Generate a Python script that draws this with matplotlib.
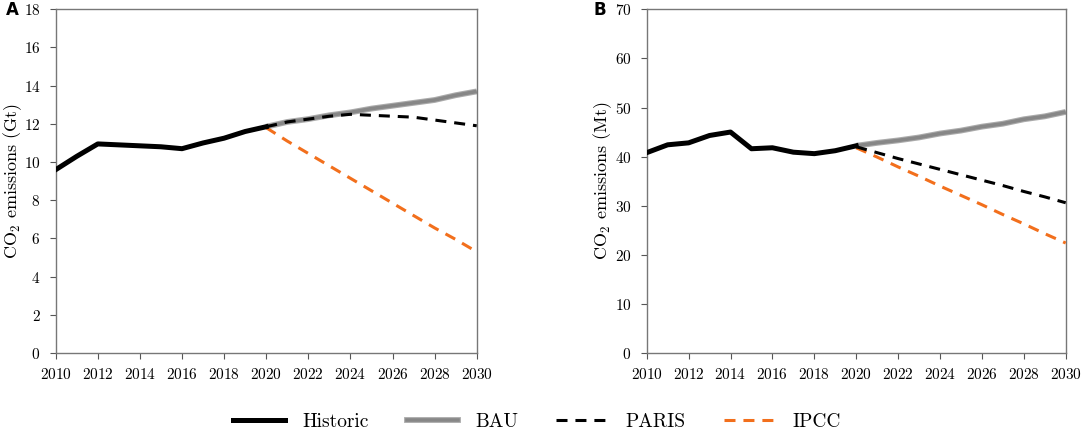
import matplotlib
matplotlib.use("Agg")
import matplotlib.pyplot as plt
import matplotlib.patheffects as pe
from matplotlib.lines import Line2D

plt.rcParams['font.family'] = ['cmr10']
plt.rcParams['mathtext.fontset'] = 'cm'
plt.rcParams['axes.formatter.use_mathtext'] = True

years_hist = [2010, 2011, 2012, 2013, 2014, 2015, 2016, 2017, 2018, 2019, 2020]
years_proj = [2020, 2021, 2022, 2023, 2024, 2025, 2026, 2027, 2028, 2029, 2030]

a_hist = [9.6, 10.3, 10.95, 10.9, 10.85, 10.8, 10.7, 11.0, 11.25, 11.6, 11.85]
a_bau = [11.85, 12.1, 12.25, 12.45, 12.6, 12.8, 12.95, 13.1, 13.25, 13.5, 13.7]
a_paris = [11.85, 12.1, 12.25, 12.4, 12.5, 12.45, 12.4, 12.35, 12.2, 12.05, 11.9]
a_ipcc = [11.8, 11.1, 10.45, 9.8, 9.15, 8.5, 7.85, 7.2, 6.55, 5.95, 5.3]

b_hist = [40.8, 42.4, 42.8, 44.3, 45.0, 41.6, 41.8, 40.9, 40.6, 41.2, 42.2]
b_bau = [42.2, 42.8, 43.3, 43.9, 44.7, 45.3, 46.1, 46.7, 47.6, 48.2, 49.1]
b_paris = [42.0, 40.8, 39.6, 38.5, 37.4, 36.3, 35.2, 34.1, 32.9, 31.8, 30.6]
b_ipcc = [41.8, 39.9, 37.9, 36.0, 34.0, 32.1, 30.2, 28.2, 26.3, 24.3, 22.4]

series_names = ['Historic', 'BAU', 'PARIS', 'IPCC']
xticks = list(range(2010, 2031, 2))

fig = plt.figure(figsize=(10.84, 4.32), dpi=100)
W, H = 1084, 432
axA = fig.add_axes([55.7 / W, 1 - 353 / H, (476.7 - 55.7) / W, (353 - 9.3) / H])
axB = fig.add_axes([646.7 / W, 1 - 353 / H, (1065.7 - 646.7) / W, (353 - 9.3) / H])

orange = '#f26f1c'
gray = '#878787'
bau_fx = [pe.Stroke(linewidth=4.2, foreground='#ababab'), pe.Normal()]
dash = (0, (3.6, 2.6))

def draw(ax, hist, bau, paris, ipcc, ymax, ystep, unit, letter, lx):
    ax.plot(years_proj, ipcc, color=orange, lw=2.2, ls=dash, zorder=3)
    ax.plot(years_proj, bau, color=gray, lw=2.6, solid_capstyle='butt', zorder=2,
            path_effects=bau_fx)
    ax.plot(years_proj, paris, color='black', lw=2.2, ls=dash, zorder=4)
    ax.plot(years_hist, hist, color='black', lw=3.6, zorder=5)
    ax.set_xlim(2010, 2030)
    ax.set_ylim(0, ymax)
    ax.set_xticks(xticks)
    ax.set_yticks(range(0, ymax + 1, ystep))
    ax.tick_params(labelsize=11, length=4, color='#555555', direction='out', top=False, right=False)
    ax.tick_params(axis='x', pad=6)
    ax.tick_params(axis='y', pad=7)
    for s in ax.spines.values():
        s.set_color('#777777')
        s.set_linewidth(1.0)
    ax.set_ylabel(r'CO$_2$ emissions (' + unit + ')', fontsize=13)
    ax.text(lx, 0.997, letter, transform=ax.transAxes, fontsize=12, fontweight='bold',
            family='DejaVu Sans', ha='left', va='center')

draw(axA, a_hist, a_bau, a_paris, a_ipcc, 18, 2, 'Gt', 'A', -0.118)
draw(axB, b_hist, b_bau, b_paris, b_ipcc, 70, 10, 'Mt', 'B', -0.128)
axA.yaxis.set_label_coords(-0.076, 0.5)
axB.yaxis.set_label_coords(-0.079, 0.5)

handles = [
    Line2D([], [], color='black', lw=3.6),
    Line2D([], [], color=gray, lw=2.6, path_effects=bau_fx),
    Line2D([], [], color='black', lw=2.2, ls=dash),
    Line2D([], [], color=orange, lw=2.2, ls=dash),
]
fig.legend(handles, series_names, loc='center', bbox_to_anchor=(537 / W, 1 - 422 / H),
           ncol=4, frameon=False, fontsize=14, handlelength=2.67, columnspacing=1.96,
           handletextpad=0.87, borderpad=0.0, borderaxespad=0.0)

fig.savefig('out.png', dpi=100)
